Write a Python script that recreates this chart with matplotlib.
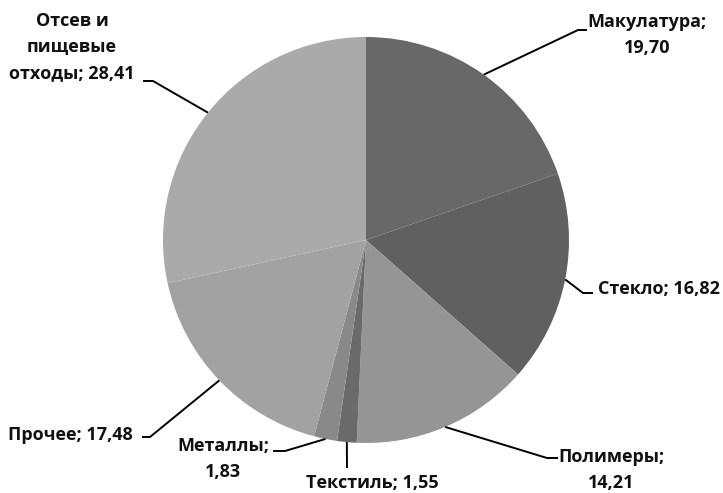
import numpy as np
import matplotlib
matplotlib.use("Agg")
import matplotlib.pyplot as plt

categories = ["Макулатура", "Стекло", "Полимеры", "Текстиль", "Металлы", "Прочее", "Отсев и\nпищевые\nотходы"]
values = [19.70, 16.82, 14.21, 1.55, 1.83, 17.48, 28.41]
label_texts = ["Макулатура;\n19,70", "Стекло; 16,82", "Полимеры;\n14,21", "Текстиль; 1,55",
               "Металлы;\n1,83", "Прочее; 17,48", "Отсев и\nпищевые\nотходы; 28,41"]
colors = ["#686868", "#606060", "#959595", "#6a6a6a", "#898989", "#a2a2a2", "#aaaaaa"]

W, H = 723, 493
CX, CY, R = 366, 240, 203  # pixel layout (image coords)

# label layout: text position (image px), alignment, elbow point
text_pos = [(647, 35), (598, 289), (611, 470), (372, 483), (223, 459), (8, 435), (72, 47)]
text_ha = ["center", "left", "center", "center", "center", "left", "center"]
elbows = [(587, 30), (593, 293), (558, 458), (347, 468), (273, 451), (142, 437), (143, 81)]
line_ends = [(578, 30), (583, 293), (547, 458), (347, 468), (285, 451), (150, 437), (153, 81)]

plt.rcParams['font.family'] = ['Open Sans', 'DejaVu Sans']
fig = plt.figure(figsize=(W / 100, H / 100), dpi=100)
ax = fig.add_axes([0, 0, 1, 1])

wedges, _ = ax.pie(values, colors=colors, startangle=90, counterclock=False,
                   center=(CX, H - CY), radius=R, frame=True,
                   wedgeprops=dict(linewidth=0))
ax.set_xlim(0, W)
ax.set_ylim(0, H)
ax.set_aspect('equal')
ax.axis('off')

for i, w in enumerate(wedges):
    ang = np.deg2rad((w.theta1 + w.theta2) / 2)
    ax0 = CX + R * np.cos(ang)
    ay0 = (H - CY) + R * np.sin(ang)
    ex, ey = line_ends[i]
    bx, by = elbows[i]
    ax.plot([ax0, ex, bx], [ay0, H - ey, H - by], color='black', lw=1.4,
            solid_capstyle='butt', zorder=3)
    tx, ty = text_pos[i]
    ax.text(tx, H - ty, label_texts[i], ha=text_ha[i], va='center',
            fontsize=13, fontweight='bold', linespacing=1.6, color='#111111')

fig.savefig("out.png", dpi=100)
